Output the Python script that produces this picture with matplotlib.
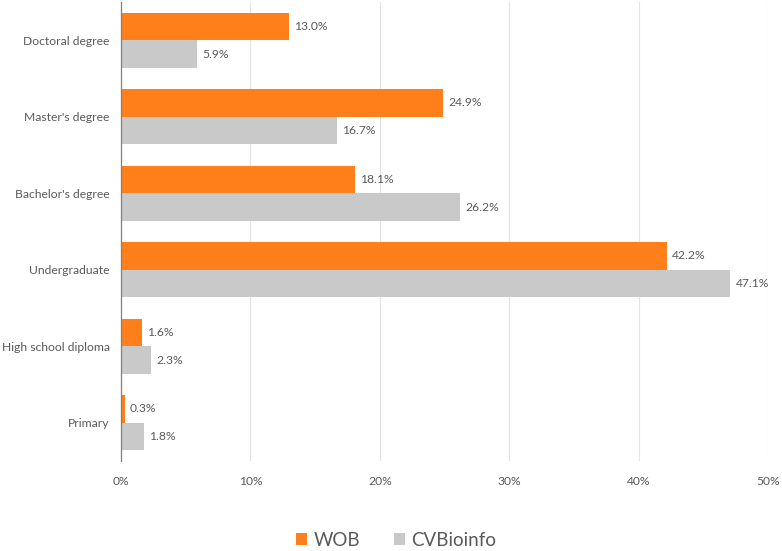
import matplotlib
matplotlib.use("Agg")
import matplotlib.pyplot as plt
import numpy as np

# values (percent)
categories = ["Doctoral degree", "Master's degree", "Bachelor's degree",
              "Undergraduate", "High school diploma", "Primary"]
wob = [13.0, 24.9, 18.1, 42.2, 1.6, 0.3]
cvbioinfo = [5.9, 16.7, 26.2, 47.1, 2.3, 1.8]
xticks = [0, 10, 20, 30, 40, 50]

plt.rcParams['font.family'] = ['Lato', 'DejaVu Sans']
txt = '#595959'

fig = plt.figure(figsize=(7.82, 5.51), dpi=100)
ax = fig.add_axes([0.1547, 0.1633, 0.8274, 0.8331])

y = np.arange(len(categories))
h = 0.36
ax.barh(y - h / 2, wob, height=h, color='#FF7F1A', label='WOB', zorder=3)
ax.barh(y + h / 2, cvbioinfo, height=h, color='#C9C9C9', label='CVBioinfo', zorder=3)

# value labels at bar ends
for yy, v in zip(y - h / 2, wob):
    ax.text(v + 0.4, yy, f'{v:.1f}%', va='center', ha='left', fontsize=8.7, color=txt)
for yy, v in zip(y + h / 2, cvbioinfo):
    ax.text(v + 0.4, yy, f'{v:.1f}%', va='center', ha='left', fontsize=8.7, color=txt)

ax.set_xlim(0, 50)
ax.set_ylim(len(categories) - 0.5, -0.5)
ax.set_xticks(xticks)
ax.set_xticklabels([f'{t}%' for t in xticks])
ax.set_yticks(y)
ax.set_yticklabels(categories)
ax.tick_params(axis='both', length=0, labelsize=8.7, labelcolor=txt)
ax.tick_params(axis='x', pad=11)
ax.tick_params(axis='y', pad=8)
ax.grid(axis='x', color='#E3E3E3', linewidth=0.8, zorder=0)

for s in ['top', 'right', 'bottom']:
    ax.spines[s].set_visible(False)
ax.spines['left'].set_color('#7F7F7F')
ax.spines['left'].set_linewidth(0.9)
ax.spines['left'].set_zorder(4)

fig.legend(loc='center', bbox_to_anchor=(396 / 782, 11 / 551), ncol=2, frameon=False,
           fontsize=13.5, handlelength=0.6, handleheight=0.6, handletextpad=0.35,
           columnspacing=1.8, labelcolor=txt)

fig.savefig('out.png', dpi=100)
